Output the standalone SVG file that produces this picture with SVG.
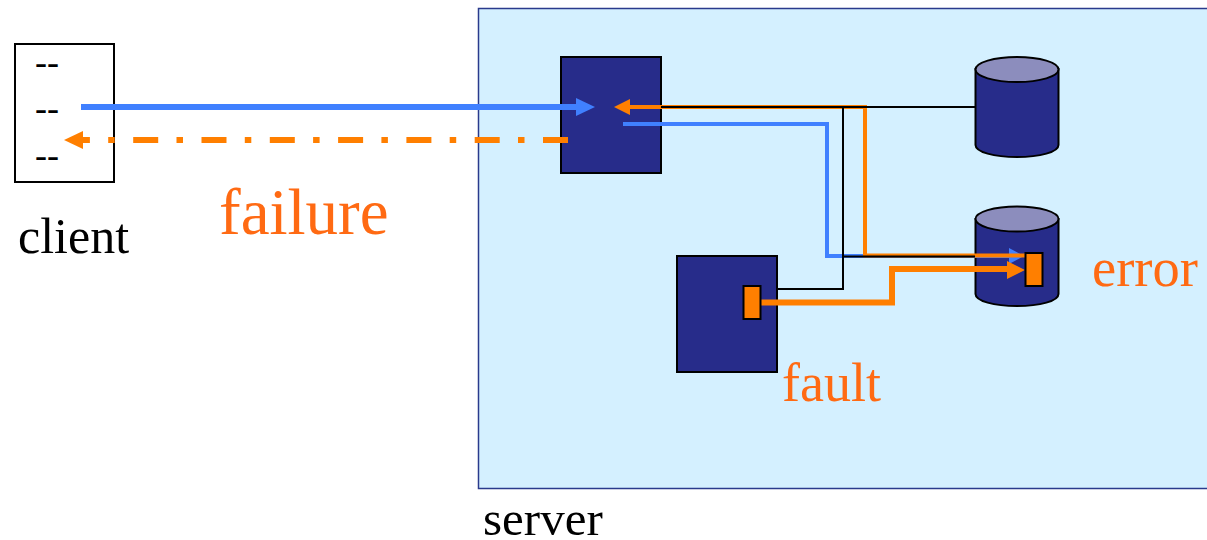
<svg xmlns="http://www.w3.org/2000/svg" width="1207" height="540" viewBox="0 0 1207 540">
<style>
.t{font-family:"Liberation Serif","Times New Roman",serif}
.o{fill:#ff6a13}
.k{fill:#000}
.b{fill:#272c8a;stroke:#000;stroke-width:2}
.w{fill:none;stroke-linejoin:miter}
.mark{fill:#ff7f00;stroke:#000;stroke-width:2}
</style>
<rect width="1207" height="540" fill="#fff"/>
<g id="server"><rect x="478.500" y="8.500" width="740" height="480" fill="#d4f0ff" stroke="#2a3a8c" stroke-width="1.500"/>
<text class="t k" x="483" y="535" font-size="49">server</text></g>
<g id="client"><rect x="15" y="44" width="99" height="138" fill="#fff" stroke="#000" stroke-width="2"/>
<text class="t k" x="35" y="73.500" font-size="36">--</text>
<text class="t k" x="35" y="119.500" font-size="36">--</text>
<text class="t k" x="35" y="166.500" font-size="36">--</text>
<text class="t k" x="18" y="253" font-size="50">client</text></g>
<g id="box-top"><rect class="b" x="561" y="57" width="100" height="116"/></g>
<g id="box-fault"><rect class="b" x="677" y="256" width="100" height="116"/></g>
<g id="db-top"><path class="b" d="M975.500 69V145C975.500 152 994 157 1017 157S1058.500 152 1058.500 145V69Z"/><ellipse cx="1017" cy="69.500" rx="41.500" ry="12.500" fill="#8c8dbd" stroke="#000" stroke-width="2"/></g>
<g id="db-error"><path class="b" d="M975.500 219V294C975.500 301 994 306 1017 306S1058.500 301 1058.500 294V219Z"/><ellipse cx="1017" cy="219" rx="41.500" ry="12.500" fill="#8c8dbd" stroke="#000" stroke-width="2"/></g>
<g id="connectors">
<path class="w" d="M623 124H827V256H1010" stroke="#4080ff" stroke-width="4"/>
<path fill="#4080ff" d="M1024 256L1009 248V264Z"/>
<path class="w" d="M630 107H865V255.500H1026" stroke="#ff7f00" stroke-width="4"/>
<path fill="#ff7f00" d="M614 107L630 99V115Z"/>
<path class="w" d="M661 107H975M843 107V289H777M843 256.500H975" stroke="#000" stroke-width="2"/>
<path class="w" d="M81 107H577" stroke="#4080ff" stroke-width="6"/>
<path fill="#4080ff" d="M595 107L576 98V116Z"/>
<path class="w" d="M568 140H82" stroke="#ff7f00" stroke-width="6" stroke-dasharray="25 18.500 6.500 18.300"/>
<path fill="#ff7f00" d="M64 140L83 131V149Z"/>
<path class="w" d="M761 302.500H892V269H1008" stroke="#ff7f00" stroke-width="6"/>
<path fill="#ff7f00" d="M1025 270L1007 261V279Z"/>
</g>
<g id="fault"><rect class="mark" x="743.500" y="286" width="17" height="33"/><text class="t o" x="782" y="401" font-size="54">fault</text></g>
<g id="error"><rect class="mark" x="1025.500" y="253" width="17" height="33"/><text class="t o" x="1092" y="286" font-size="54.500">error</text></g>
<g id="failure"><text class="t o" x="219" y="234" font-size="65">failure</text></g>
</svg>
